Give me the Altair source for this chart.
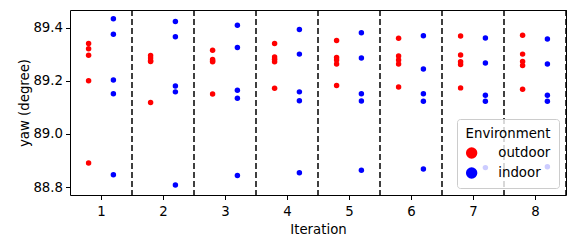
import altair as alt
import pandas as pd

iterations = [1, 2, 3, 4, 5, 6, 7, 8]
outdoor = [
    [89.340, 89.320, 89.296, 89.200, 88.890],
    [89.295, 89.285, 89.275, 89.272, 89.118],
    [89.315, 89.280, 89.274, 89.271, 89.150],
    [89.340, 89.289, 89.281, 89.271, 89.172],
    [89.351, 89.287, 89.278, 89.263, 89.182],
    [89.360, 89.293, 89.278, 89.263, 89.176],
    [89.368, 89.297, 89.271, 89.261, 89.173],
    [89.371, 89.300, 89.272, 89.257, 89.168],
]
indoor = [
    [89.433, 89.375, 89.203, 89.151, 88.846],
    [89.423, 89.365, 89.180, 89.158, 88.808],
    [89.409, 89.325, 89.164, 89.134, 88.843],
    [89.393, 89.300, 89.158, 89.125, 88.854],
    [89.380, 89.285, 89.151, 89.124, 88.863],
    [89.369, 89.244, 89.151, 89.123, 88.868],
    [89.361, 89.267, 89.145, 89.123, 88.873],
    [89.357, 89.263, 89.145, 89.123, 88.876],
]
separators = [1.5, 2.5, 3.5, 4.5, 5.5, 6.5, 7.5, 8.5]
y_ticks = [88.8, 89.0, 89.2, 89.4]

rows = []
for it, vals in zip(iterations, outdoor):
    for v in vals:
        rows.append({"Iteration": it, "Environment": "outdoor", "yaw": v})
for it, vals in zip(iterations, indoor):
    for v in vals:
        rows.append({"Iteration": it, "Environment": "indoor", "yaw": v})
df = pd.DataFrame(rows)
sep_df = pd.DataFrame({"sep": separators})

xscale = alt.Scale(domain=[0.5, 8.5], nice=False, zero=False)
yscale = alt.Scale(domain=[88.77, 89.466], nice=False, zero=False)

FS = 13.3

rules = alt.Chart(sep_df).mark_rule(
    color="black", strokeDash=[6, 3], strokeWidth=1.5
).encode(x=alt.X("sep:Q", scale=xscale))

points = alt.Chart(df).transform_calculate(
    xpos="datum.Iteration + (datum.Environment == 'outdoor' ? -0.2 : 0.2)"
).mark_circle(size=30, opacity=1).encode(
    x=alt.X("xpos:Q", scale=xscale,
            axis=alt.Axis(values=iterations, format="d", title="Iteration")),
    y=alt.Y("yaw:Q", scale=yscale,
            axis=alt.Axis(values=y_ticks, format=".1f", title="yaw (degree)")),
    color=alt.Color(
        "Environment:N",
        scale=alt.Scale(domain=["outdoor", "indoor"], range=["#ff0000", "#0000ff"]),
        legend=alt.Legend(
            title="Environment", orient="bottom-right", offset=7,
            fillColor="rgba(255,255,255,0.8)", strokeColor="#cccccc",
            padding=8, cornerRadius=3, symbolSize=130, symbolStrokeWidth=0,
            labelOffset=20, rowPadding=6, titlePadding=6,
            titleAnchor="middle",
        ),
    ),
)

chart = alt.layer(rules, points).properties(
    width=496, height=185,
    autosize=alt.AutoSizeParams(type="none"),
    padding={"left": 62, "top": 2, "right": 2, "bottom": 45},
).configure(
    font="DejaVu Sans",
).configure_view(
    stroke="black", strokeWidth=1,
).configure_axis(
    grid=False, domain=False, tickColor="black", tickSize=4.5, tickWidth=1,
    labelColor="black", labelFontSize=FS, titleFontSize=FS,
    titleFontWeight="normal", titleColor="black",
).configure_axisX(
    labelPadding=5, titlePadding=5,
).configure_axisY(
    labelPadding=3, titlePadding=1,
).configure_legend(
    titleFontSize=FS, labelFontSize=FS, titleFontWeight="normal",
    titleColor="black", labelColor="black",
)

chart.save("out.html", embed_options={"renderer": "svg", "actions": False})
